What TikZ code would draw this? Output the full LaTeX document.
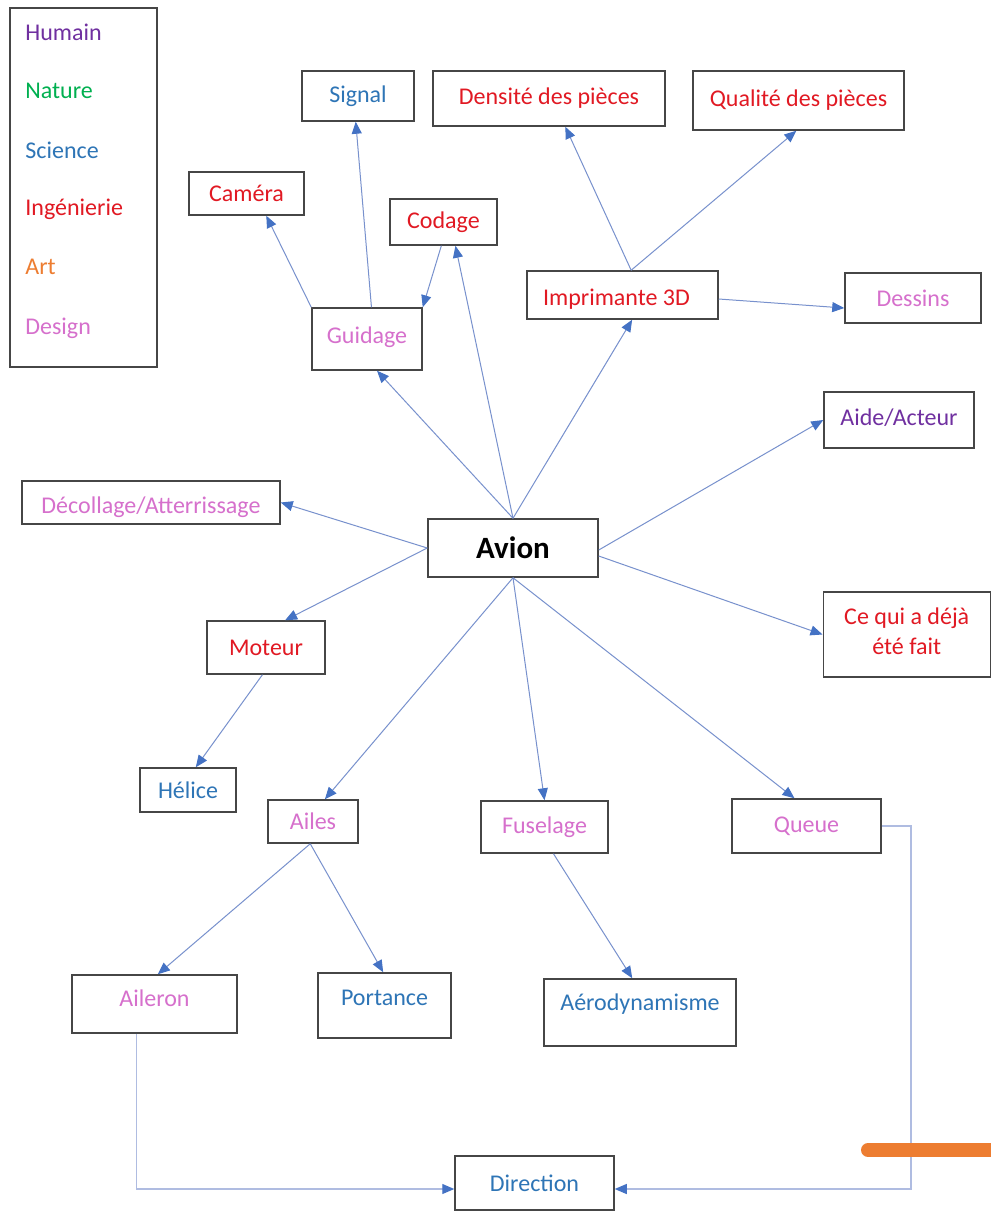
\documentclass[tikz,border=0pt]{standalone}
\usepackage{fontspec}
\setmainfont{Carlito}
\usetikzlibrary{arrows.meta,calc}

\definecolor{humain}{RGB}{112,48,160}
\definecolor{nature}{RGB}{0,176,80}
\definecolor{science}{RGB}{46,117,182}
\definecolor{ingenierie}{RGB}{225,25,35}
\definecolor{art}{RGB}{237,125,49}
\definecolor{design}{RGB}{214,112,204}
\definecolor{linkcol}{RGB}{120,145,205}
\definecolor{tipcol}{RGB}{68,114,196}
\definecolor{elbowcol}{RGB}{175,188,225}
\definecolor{boxline}{RGB}{70,70,70}
\definecolor{marker}{RGB}{237,125,49}

% text sitting in the upper part of its box: extra depth below it
\newcommand{\uptext}[2]{\raisebox{0pt}[\height][\dimexpr\depth+#1\relax]{#2}}
% text sitting in the lower part of its box: extra height above it
\newcommand{\downtext}[2]{\raisebox{0pt}[\dimexpr\height+#1\relax][\depth]{#2}}

\begin{document}
\begin{tikzpicture}[x=0.5pt,y=-0.5pt,
  box/.style={draw=boxline, line width=0.75pt, rectangle, inner sep=0pt,
    font=\fontsize{12pt}{14pt}\selectfont, align=center},
  legtext/.style={anchor=west, inner sep=0pt, font=\fontsize{12pt}{14pt}\selectfont},
  link/.style={draw=linkcol, line width=0.5pt,
    -{Triangle[length=6pt,width=5pt,fill=tipcol,color=tipcol]}},
  elbow/.style={draw=elbowcol, line width=0.6pt,
    -{Triangle[length=6pt,width=5pt,fill=tipcol,color=tipcol]}}]

\useasboundingbox (0,0) rectangle (991,1211);
\fill[white] (0,0) rectangle (991,1211);

% legend
\node[draw=boxline, line width=0.75pt, minimum width=73.5pt, minimum height=179.5pt, inner sep=0pt] (legend) at (83.5,187.5) {};
\node[legtext, text=humain] (lhum) at (25,32) {Humain};
\node[legtext, text=nature] (lnat) at (25,91) {Nature};
\node[legtext, text=science] (lsci) at (25,150) {Science};
\node[legtext, text=ingenierie] (ling) at (25,209) {Ingénierie};
\node[legtext, text=art] (lart) at (25,267) {Art};
\node[legtext, text=design] (ldes) at (25,328) {Design};

% boxes
\node[box, text=science, minimum width=56pt, minimum height=25pt] (signal) at (358,96) {Signal};
\node[box, text=ingenierie, minimum width=116pt, minimum height=27.5pt] (densite) at (549,98.5) {Densité des pièces};
\node[box, text=ingenierie, minimum width=105.5pt, minimum height=29.5pt] (qualite) at (798.5,100.5) {Qualité des pièces};
\node[box, text=ingenierie, minimum width=57.5pt, minimum height=21.5pt] (camera) at (246.5,193.5) {Caméra};
\node[box, text=ingenierie, minimum width=53.5pt, minimum height=23pt] (codage) at (443.5,222) {Codage};
\node[box, text=ingenierie, minimum width=95.5pt, minimum height=24pt] (imprim) at (622.5,295) {\downtext{4pt}{Imprimante 3D}\hspace{6pt}};
\node[box, text=design, minimum width=68pt, minimum height=25pt] (dessins) at (913,298) {Dessins};
\node[box, text=design, minimum width=55pt, minimum height=31pt] (guidage) at (367,339) {\uptext{2pt}{Guidage}};
\node[box, text=humain, minimum width=75pt, minimum height=28pt] (aide) at (899,420) {\uptext{2pt}{Aide/Acteur}};
\node[box, text=design, minimum width=129pt, minimum height=21.5pt] (decol) at (151,502.5) {\downtext{5pt}{Décollage/Atterrissage}};
\node[box, text=black, minimum width=85pt, minimum height=29pt, font=\fontsize{15.5pt}{18pt}\selectfont\bfseries] (avion) at (513,548) {Avion};
\node[box, text=ingenierie, minimum width=83.5pt, minimum height=42.5pt, font=\fontsize{12pt}{15pt}\selectfont] (cequi) at (906.75,634.5) {Ce qui a déjà\\\uptext{3pt}{été fait}};
\node[box, text=ingenierie, minimum width=59pt, minimum height=26.5pt] (moteur) at (266,647.5) {Moteur};
\node[box, text=science, minimum width=48pt, minimum height=22pt] (helice) at (188,790) {Hélice};
\node[box, text=design, minimum width=45pt, minimum height=21.5pt] (ailes) at (313,821.5) {Ailes};
\node[box, text=design, minimum width=63.5pt, minimum height=26pt] (fuselage) at (544.5,827) {Fuselage};
\node[box, text=design, minimum width=74.5pt, minimum height=27pt] (queue) at (806.5,826) {Queue};
\node[box, text=design, minimum width=82.5pt, minimum height=29pt] (aileron) at (154.5,1004) {\uptext{6pt}{Aileron}};
\node[box, text=science, minimum width=66.5pt, minimum height=32.5pt] (portance) at (384.5,1005.5) {\uptext{7.5pt}{Portance}};
\node[box, text=science, minimum width=96pt, minimum height=33.5pt] (aero) at (640,1012.5) {\uptext{8.5pt}{Aérodynamisme}};
\node[box, text=science, minimum width=79.5pt, minimum height=27pt] (direction) at (534.5,1183) {Direction};

% connectors from the central box
\draw[link] (avion.north) -- ($(guidage.south west)!0.59!(guidage.south east)$);
\draw[link] (avion.north) -- ($(codage.south west)!0.61!(codage.south east)$);
\draw[link] (avion.north) -- ($(imprim.south west)!0.55!(imprim.south east)$);
\draw[link] ($(avion.east)+(0,2)$) -- (aide.west);
\draw[link] ($(avion.east)+(0,8)$) -- (cequi.west);
\draw[link] (avion.west) -- (decol.east);
\draw[link] (avion.west) -- ($(moteur.north west)!0.66!(moteur.north east)$);
\draw[link] (avion.south) -- ($(ailes.north west)!0.63!(ailes.north east)$);
\draw[link] (avion.south) -- (fuselage.north);
\draw[link] (avion.south) -- ($(queue.north west)!0.42!(queue.north east)$);

% second level
\draw[link] (guidage.north west) -- ($(camera.south west)!0.67!(camera.south east)$);
\draw[link] ($(guidage.north west)!0.54!(guidage.north east)$) -- ($(signal.south west)!0.48!(signal.south east)$);
\draw[link] ($(codage.south west)!0.48!(codage.south east)$) -- (guidage.north east);
\draw[link] ($(imprim.north west)!0.545!(imprim.north east)$) -- ($(densite.south west)!0.57!(densite.south east)$);
\draw[link] ($(imprim.north west)!0.545!(imprim.north east)$) -- ($(qualite.south west)!0.49!(qualite.south east)$);
\draw[link] ($(imprim.east)+(0,4)$) -- ($(dessins.west)+(0,10)$);
\draw[link] ($(moteur.south west)!0.47!(moteur.south east)$) -- ($(helice.north west)!0.58!(helice.north east)$);
\draw[link] ($(ailes.south west)!0.47!(ailes.south east)$) -- ($(aileron.north west)!0.52!(aileron.north east)$);
\draw[link] ($(ailes.south west)!0.47!(ailes.south east)$) -- ($(portance.north west)!0.49!(portance.north east)$);
\draw[link] ($(fuselage.south west)!0.57!(fuselage.south east)$) -- ($(aero.north west)!0.46!(aero.north east)$);

% elbow connectors into Direction
\coordinate (qturn) at (911,826);
\draw[elbow] ($(aileron.south west)!0.39!(aileron.south east)$) |- ($(direction.west)+(0,6)$);
\draw[elbow] (queue.east) -- (qturn) |- ($(direction.east)+(0,6)$);

% hand-drawn marker stroke
\draw[marker, line width=7pt, line cap=round] (868,1150) -- (1010,1150);
\end{tikzpicture}
\end{document}
